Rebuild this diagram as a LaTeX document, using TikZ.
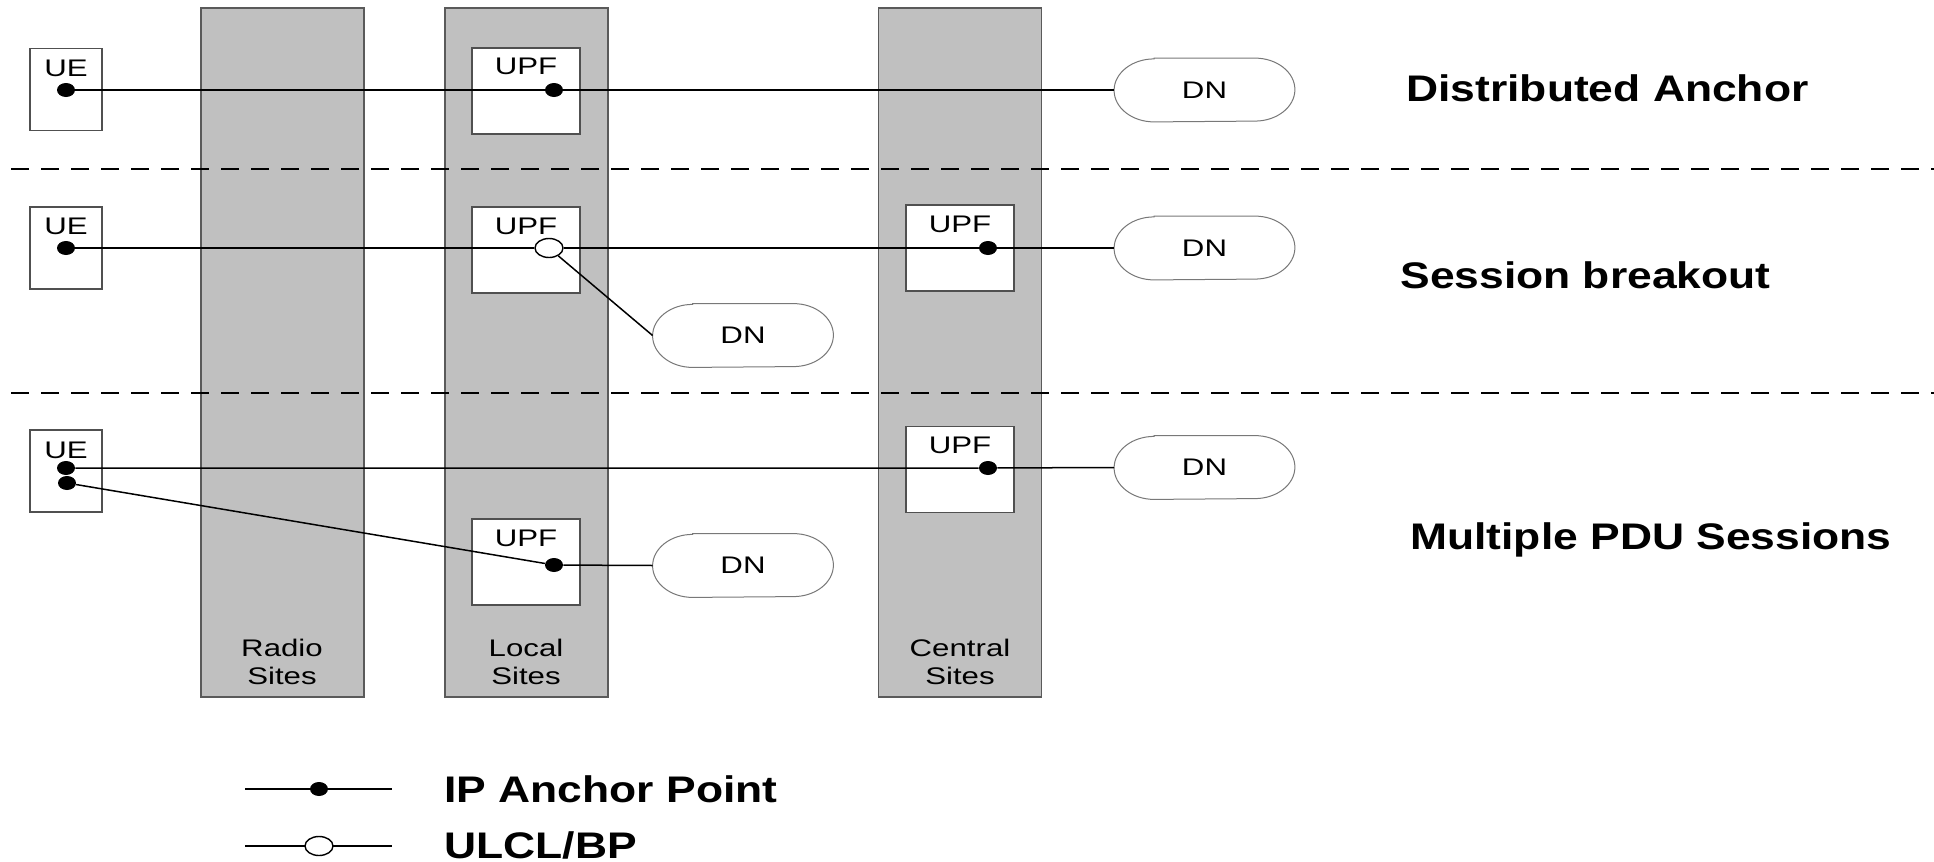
\documentclass[tikz,border=0pt]{standalone}
\usepackage{fontspec}
\setmainfont{Liberation Sans}
\usetikzlibrary{shapes.geometric}

\definecolor{sitefill}{RGB}{192,192,192}
\definecolor{siteedge}{RGB}{90,90,90}
\definecolor{boxedge}{RGB}{80,80,80}
\definecolor{dnedge}{RGB}{120,120,120}

% horizontally widened text
\newcommand\widetxt[1]{\scalebox{1.3}[1]{#1}}
\newcommand\widebig[1]{\scalebox{1.2}[1]{#1}}

% stadium outline with elliptical ends around a DN node
\newcommand\dnoutline[1]{%
  \draw[dnline] ([xshift=20pt]#1.north west) -- ([xshift=-20pt]#1.north east)
    arc[start angle=90,end angle=-90,x radius=20pt,y radius=15.75pt]
    -- ([xshift=20pt]#1.south west)
    arc[start angle=270,end angle=90,x radius=20pt,y radius=15.75pt] -- cycle;}

\tikzset{
  site/.style={fill=sitefill, draw=siteedge, line width=0.6pt,
    minimum width=81.5pt, minimum height=344.5pt, inner sep=0},
  uebox/.style={fill=white, draw=boxedge, line width=0.6pt,
    minimum width=36pt, minimum height=41pt, inner sep=0},
  upfbox/.style={fill=white, draw=boxedge, line width=0.6pt,
    minimum width=54pt, minimum height=43pt, inner sep=0},
  dn/.style={minimum width=90pt, minimum height=31.5pt, inner sep=0,
    font=\fontsize{12}{14}\selectfont},
  dnline/.style={draw=dnedge, line width=0.5pt, fill=white},
  smalltxt/.style={font=\fontsize{12}{14}\selectfont, inner sep=0, anchor=base},
  bigtxt/.style={font=\fontsize{18.5}{22}\selectfont\bfseries, inner sep=0,
    anchor=base west},
  anchorpt/.style={ellipse, fill=black, minimum width=9pt, minimum height=7pt,
    inner sep=0},
  branchpt/.style={ellipse, draw=black, fill=white, line width=0.7pt,
    minimum width=14pt, minimum height=9.5pt, inner sep=0},
  link/.style={draw=black, line width=0.75pt},
  divider/.style={draw=black, line width=0.6pt, dash pattern=on 9pt off 6pt}
}

\begin{document}
\begin{tikzpicture}[x=0.5pt, y=-0.5pt]
\useasboundingbox (0,0) rectangle (1934,862);

% site columns
\node[site] (radio)   at (282.5,352.5) {};
\node[site] (local)   at (526.5,352.5) {};
\node[site] (central) at (960,352.5) {};
\node[smalltxt] (radioA)   at (282,656) {\widetxt{Radio}};
\node[smalltxt] (radioB)   at (282,684) {\widetxt{Sites}};
\node[smalltxt] (localA)   at (526,656) {\widetxt{Local}};
\node[smalltxt] (localB)   at (526,684) {\widetxt{Sites}};
\node[smalltxt] (centralA) at (960,656) {\widetxt{Central}};
\node[smalltxt] (centralB) at (960,684) {\widetxt{Sites}};

% section dividers
\coordinate (divAl) at (11,169);  \coordinate (divAr) at (1934,169);
\coordinate (divBl) at (11,393);  \coordinate (divBr) at (1934,393);
\draw[divider] (divAl) -- (divAr);
\draw[divider] (divBl) -- (divBr);

% UE boxes
\node[uebox] (ue1) at (66,89.5) {};
\node[uebox] (ue2) at (66,248) {};
\node[uebox] (ue3) at (66,471) {};
\node[smalltxt] (ue1t) at (66,76) {\widetxt{UE}};
\node[smalltxt] (ue2t) at (66,234) {\widetxt{UE}};
\node[smalltxt] (ue3t) at (66,458) {\widetxt{UE}};

% UPF boxes
\node[upfbox] (upfL1) at (526,91) {};
\node[upfbox] (upfL2) at (526,250) {};
\node[upfbox] (upfL3) at (526,562) {};
\node[upfbox] (upfC2) at (960,248) {};
\node[upfbox] (upfC3) at (960,469.5) {};
\node[smalltxt] (upfL1t) at (526,75) {\widetxt{UPF}};
\node[smalltxt] (upfL2t) at (526,234) {\widetxt{UPF}};
\node[smalltxt] (upfL3t) at (526,546) {\widetxt{UPF}};
\node[smalltxt] (upfC2t) at (960,232) {\widetxt{UPF}};
\node[smalltxt] (upfC3t) at (960,453) {\widetxt{UPF}};

% data networks
\node[dn] (dn1)  at (1204.5,90)   {};
\node[dn] (dn2)  at (1204.5,248)  {};
\node[dn] (dn2l) at (743,335.5)   {};
\node[dn] (dn3)  at (1204.5,467.5){};
\node[dn] (dn3l) at (743,565.5)   {};
\dnoutline{dn1}\dnoutline{dn2}\dnoutline{dn2l}\dnoutline{dn3}\dnoutline{dn3l}
\node[dn] (dn1t)  at (dn1)  {\widetxt{DN}};
\node[dn] (dn2t)  at (dn2)  {\widetxt{DN}};
\node[dn] (dn2lt) at (dn2l) {\widetxt{DN}};
\node[dn] (dn3t)  at (dn3)  {\widetxt{DN}};
\node[dn] (dn3lt) at (dn3l) {\widetxt{DN}};

% anchor and branching points
\node[anchorpt] (ue1d) at (66,90) {};
\node[anchorpt] (ue2d) at (66,248) {};
\node[anchorpt] (ue3a) at (66,468) {};
\node[anchorpt] (ue3b) at (67,483) {};
\node[anchorpt] (l1d)  at (554,90) {};
\node[branchpt] (l2c)  at (549,248) {};
\node[anchorpt] (l3d)  at (554,565) {};
\node[anchorpt] (c2d)  at (988,248) {};
\node[anchorpt] (c3d)  at (988,468) {};

% user plane paths
\draw[link] (ue1d) -- (l1d) -- (dn1.west);
\draw[link] (ue2d) -- (l2c) -- (c2d) -- (dn2.west);
\draw[link] (l2c) -- (dn2l.west);
\draw[link] (ue3a) -- (c3d) -- (dn3.west);
\draw[link] (ue3b) -- (l3d) -- (dn3l.west);

% scenario labels
\node[bigtxt] (lblA) at (1406,101) {\widebig{Distributed Anchor}};
\node[bigtxt] (lblB) at (1400,288) {\widebig{Session breakout}};
\node[bigtxt] (lblC) at (1410,549) {\widebig{Multiple PDU Sessions}};

% legend
\coordinate (lgAl) at (245,789); \coordinate (lgAr) at (392,789);
\coordinate (lgBl) at (245,846); \coordinate (lgBr) at (392,846);
\draw[link] (lgAl) -- (lgAr);
\draw[link] (lgBl) -- (lgBr);
\node[anchorpt] (lgAd) at (319,789) {};
\node[branchpt] (lgBd) at (319,846) {};
\node[bigtxt] (lgAt) at (444,802) {\widebig{IP Anchor Point}};
\node[bigtxt] (lgBt) at (444,858) {\widebig{ULCL/BP}};
\end{tikzpicture}
\end{document}
